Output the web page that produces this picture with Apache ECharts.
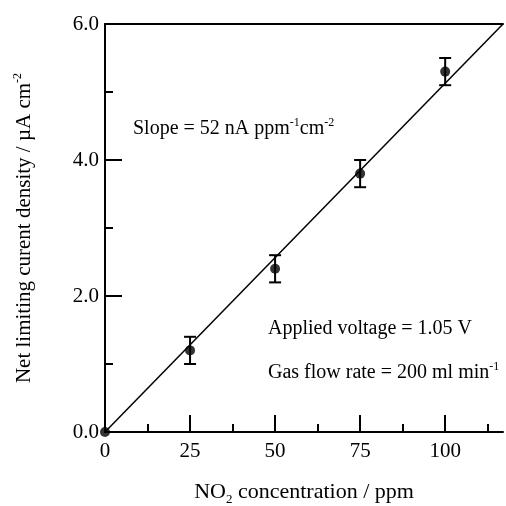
<!DOCTYPE html>
<html><head><meta charset="utf-8">
<script src="https://cdn.jsdelivr.net/npm/echarts@6/dist/echarts.min.js"></script>
<style>html,body{margin:0;padding:0;background:#fff}#c{width:506px;height:506px}</style>
</head><body><div id="c"></div>
<script>
// Data
const concentrations = [0, 25, 50, 75, 100];          // ppm
const currentDensity = [0, 1.2, 2.4, 3.8, 5.3];        // µA cm-2
const errors = [0, 0.2, 0.2, 0.2, 0.2];
const fitLine = [[0, 0], [117, 6.0]];
const xTicks = [0, 25, 50, 75, 100];
const xMinorTicks = [12.5, 37.5, 62.5, 87.5, 112.5];
const yTicks = [0, 2, 4, 6];

const F = 'Liberation Serif';
const chart = echarts.init(document.getElementById('c'));
const pts = concentrations.map((x, i) => [x, currentDensity[i]]);
const errData = concentrations.map((x, i) => [x, currentDensity[i], errors[i]]).filter(d => d[2] > 0);

function rich(size) {
  return {
    n: {fontFamily: F, fontSize: size, color: '#000', lineHeight: size + 2, verticalAlign: 'bottom'},
    s: {fontFamily: F, fontSize: 12, color: '#000', lineHeight: size + 2, verticalAlign: 'top'},
    b: {fontFamily: F, fontSize: 13, color: '#000', lineHeight: size + 2, verticalAlign: 'bottom', padding: [0,0,-3,0]}
  };
}

chart.setOption({
  animation: false,
  grid: {left: 105, right: 3, top: 24, bottom: 74, containLabel: false, outerBoundsMode: 'none'},
  xAxis: [{
    type: 'value', min: 0, max: 117, position: 'bottom',
    axisLine: {lineStyle: {color: '#000', width: 2}},
    axisTick: {inside: true, length: 17, lineStyle: {color: '#000', width: 2}, customValues: xTicks},
    axisLabel: {customValues: xTicks, color: '#000', fontFamily: F, fontSize: 21, margin: 9},
    splitLine: {show: false},
    name: '{n|NO}{b|2}{n| concentration / ppm}',
    nameLocation: 'middle', nameGap: 47,
    nameTextStyle: {rich: rich(22)}
  }, {
    type: 'value', min: 0, max: 117, position: 'bottom', gridIndex: 0,
    axisLine: {show: false},
    axisTick: {inside: true, length: 8, lineStyle: {color: '#000', width: 2}, customValues: xMinorTicks},
    axisLabel: {show: false}, splitLine: {show: false}
  }, {
    type: 'value', min: 0, max: 117, position: 'top',
    axisLine: {lineStyle: {color: '#000', width: 2}},
    axisTick: {show: false}, axisLabel: {show: false}, splitLine: {show: false}
  }],
  yAxis: [{
    type: 'value', min: 0, max: 6, interval: 2,
    axisLine: {show: true, lineStyle: {color: '#000', width: 2}},
    axisTick: {show: true, inside: true, length: 17, lineStyle: {color: '#000', width: 2}},
    minorTick: {show: true, splitNumber: 2, length: 8, lineStyle: {color: '#000', width: 2}},
    axisLabel: {color: '#000', fontFamily: F, fontSize: 21, margin: 6, formatter: v => v.toFixed(1)},
    splitLine: {show: false}, minorSplitLine: {show: false},
    name: '{n|Net limiting curent density / µA cm}{s|-2}',
    nameLocation: 'middle', nameGap: 70, nameRotate: 90,
    nameTextStyle: {rich: rich(21)}
  }],
  series: [{
    type: 'line', data: fitLine, symbol: 'none',
    lineStyle: {color: '#000', width: 1.5}, z: 2
  }, {
    type: 'custom', data: errData, z: 3,
    renderItem: (params, api) => {
      const x = api.value(0), y = api.value(1), e = api.value(2);
      const top = api.coord([x, y + e]);
      const bot = api.coord([x, y - e]);
      const hw = 6;
      const st = {stroke: '#000', lineWidth: 2};
      return {type: 'group', children: [
        {type: 'line', shape: {x1: top[0], y1: top[1], x2: bot[0], y2: bot[1]}, style: st},
        {type: 'line', shape: {x1: top[0]-hw, y1: top[1], x2: top[0]+hw, y2: top[1]}, style: st},
        {type: 'line', shape: {x1: bot[0]-hw, y1: bot[1], x2: bot[0]+hw, y2: bot[1]}, style: st}
      ]};
    }
  }, {
    type: 'scatter', data: pts, symbol: 'circle', symbolSize: 10,
    itemStyle: {color: '#000'}, z: 4
  }],
  graphic: [{
    type: 'text', left: 133, top: 117,
    style: {text: '{n|Slope = 52 nA ppm}{s|-1}{n|cm}{s|-2}', rich: rich(20)}
  }, {
    type: 'text', left: 268, top: 319,
    style: {text: '{n|Applied voltage = 1.05 V}', rich: rich(20)}
  }, {
    type: 'text', left: 268, top: 361,
    style: {text: '{n|Gas flow rate = 200 ml min}{s|-1}', rich: rich(20)}
  }]
});
</script></body></html>
